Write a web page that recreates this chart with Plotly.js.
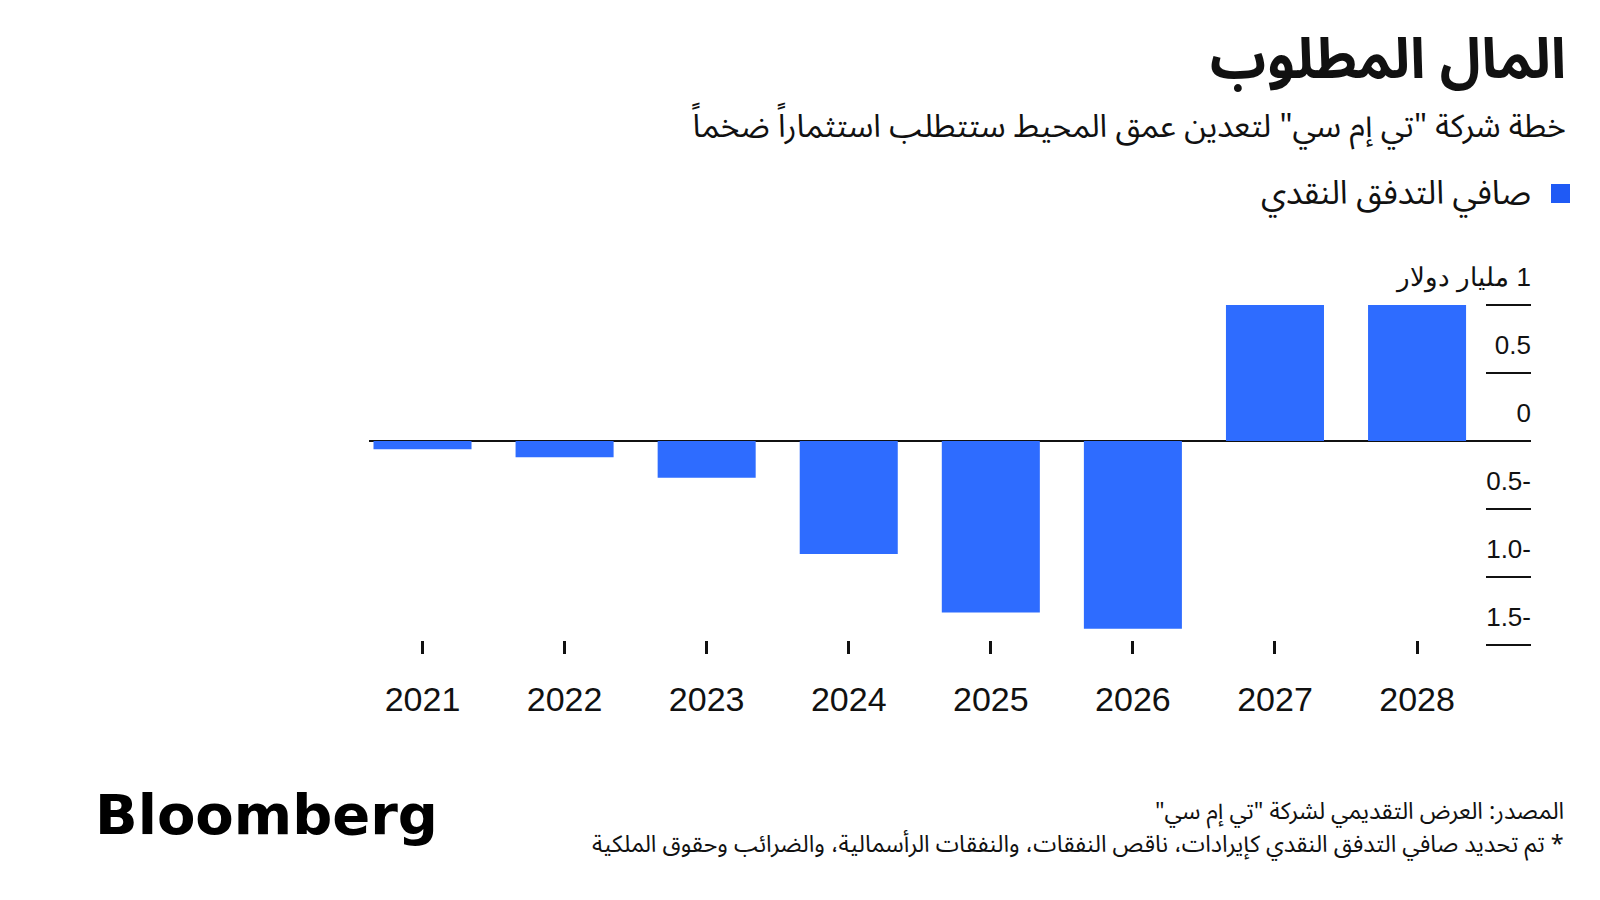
<!DOCTYPE html>
<html>
<head>
<meta charset="utf-8">
<script src="https://cdn.plot.ly/plotly-3.0.1.min.js"></script>
<style>html,body{margin:0;padding:0;background:#fff;}#chart{width:1600px;height:900px;}</style>
</head>
<body>
<div id="chart"></div>
<script>
// ---- data ----
const years = ['2021', '2022', '2023', '2024', '2025', '2026', '2027', '2028'];
const netCashFlow = [-0.06, -0.12, -0.27, -0.83, -1.26, -1.38, 1.0, 1.0]; // billion USD
const yTickVals = [1, 0.5, 0, -0.5, -1, -1.5];
const yTickText = ['\u200F1 مليار دولار', '0.5', '0', '0.5-', '1.0-', '1.5-'];
const seriesName = 'صافي التدفق النقدي';
const titleText = 'المال المطلوب';
const subtitleText = 'خطة شركة "تي إم سي" لتعدين عمق المحيط ستتطلب استثماراً ضخماً';
const sourceText = 'المصدر: العرض التقديمي لشركة "تي إم سي"\u200F';
const noteText = '\u200F* تم تحديد صافي التدفق النقدي كإيرادات، ناقص النفقات، والنفقات الرأسمالية، والضرائب وحقوق الملكية';
const logoText = 'Bloomberg';

// ---- layout geometry ----
const L = 369, R = 69, T = 271, B = 246;
const W = 1600 - L - R, H = 900 - T - B;
const px = x => (x - L) / W;
const py = y => (T + H - y) / H;

const arabicFont = '"Noto Sans Arabic", "DejaVu Sans", sans-serif';
const latinFont = '"Liberation Sans", Arial, sans-serif';
const ink = '#111111';

const traces = [
  {
    type: 'bar',
    x: years,
    y: netCashFlow,
    name: seriesName,
    marker: {color: '#2e6cff', line: {width: 0}},
    showlegend: false,
    hoverinfo: 'x+y'
  },
  {
    type: 'scatter',
    x: [], y: [],
    xaxis: 'x', yaxis: 'y2',
    showlegend: false,
    hoverinfo: 'skip'
  }
];

const yRange = [-1.566, 1.25];

const layout = {
  width: 1600, height: 900, autosize: false,
  paper_bgcolor: '#ffffff', plot_bgcolor: '#ffffff',
  margin: {l: L, r: R, t: T, b: B, pad: 0},
  bargap: 0.31,
  showlegend: false,
  title: {
    text: titleText,
    font: {family: arabicFont, size: 56, color: ink, weight: 'bold'},
    xref: 'container', yref: 'container',
    x: 1566 / 1600, xanchor: 'right',
    y: 1 - 58 / 900, yanchor: 'middle'
  },
  xaxis: {
    type: 'category',
    range: [-0.3766, 7.802],
    ticks: 'inside', ticklen: 13, tickwidth: 3, tickcolor: ink,
    showline: false, showgrid: false, zeroline: false,
    tickfont: {family: latinFont, size: 34, color: ink},
    ticklabelstandoff: 22,
    fixedrange: true
  },
  yaxis: {
    range: yRange,
    side: 'right',
    tickmode: 'array', tickvals: yTickVals,
    ticks: 'inside', ticklen: 45, tickwidth: 2.5, tickcolor: ink,
    showticklabels: false,
    showgrid: false, showline: false,
    zeroline: true, zerolinecolor: ink, zerolinewidth: 2.5,
    fixedrange: true
  },
  yaxis2: {
    range: yRange,
    overlaying: 'y',
    side: 'left', anchor: 'free', position: 1,
    tickmode: 'array', tickvals: yTickVals, ticktext: yTickText,
    ticks: '', showgrid: false, zeroline: false, showline: false,
    ticklabelshift: -28,
    tickfont: {family: latinFont, size: 26, color: ink},
    fixedrange: true
  },
  shapes: [
    {type: 'rect', xref: 'paper', yref: 'paper',
     x0: px(1551), x1: px(1570), y0: py(203), y1: py(184),
     fillcolor: '#1f5af5', line: {width: 0}}
  ],
  annotations: [
    {text: subtitleText, xref: 'paper', yref: 'paper', x: px(1568), y: py(127),
     xanchor: 'right', yanchor: 'middle', showarrow: false,
     font: {family: arabicFont, size: 32, color: ink}},
    {text: seriesName, xref: 'paper', yref: 'paper', x: px(1533), y: py(193),
     xanchor: 'right', yanchor: 'middle', showarrow: false,
     font: {family: arabicFont, size: 33, color: ink}},
    {text: sourceText, xref: 'paper', yref: 'paper', x: px(1566), y: py(811),
     xanchor: 'right', yanchor: 'middle', showarrow: false,
     font: {family: arabicFont, size: 23.5, color: ink}},
    {text: noteText, xref: 'paper', yref: 'paper', x: px(1566), y: py(844),
     xanchor: 'right', yanchor: 'middle', showarrow: false,
     font: {family: arabicFont, size: 23.5, color: ink}},
    {text: '<b>' + logoText + '</b>', xref: 'paper', yref: 'paper', x: px(93), y: py(814),
     xanchor: 'left', yanchor: 'middle', showarrow: false,
     font: {family: '"DejaVu Sans", sans-serif', size: 56, color: '#000000'}}
  ]
};

Plotly.newPlot('chart', traces, layout, {displayModeBar: false, staticPlot: true});
</script>
</body>
</html>
